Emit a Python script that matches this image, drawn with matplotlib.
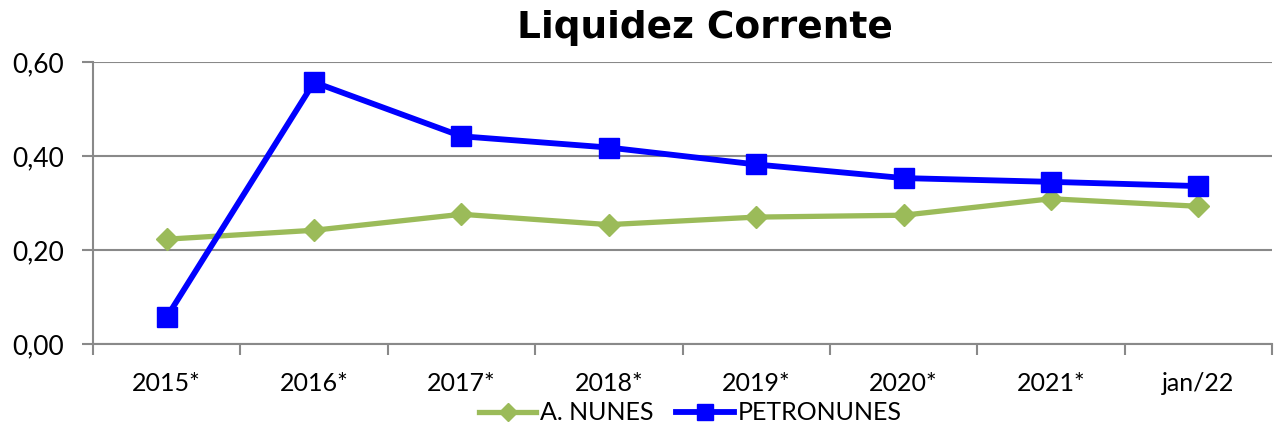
import matplotlib.pyplot as plt

categories = ["2015*", "2016*", "2017*", "2018*", "2019*", "2020*", "2021*", "jan/22"]
a_nunes = [0.223, 0.242, 0.276, 0.254, 0.270, 0.274, 0.309, 0.293]
petronunes = [0.057, 0.557, 0.442, 0.418, 0.382, 0.353, 0.345, 0.336]

GRID = '#898989'
TICK_FONT = ['Lato', 'DejaVu Sans']

fig = plt.figure(figsize=(12.77, 4.30), dpi=100)
ax = fig.add_axes([93 / 1277, 1 - 344 / 430, (1272 - 93) / 1277, (344 - 62) / 430])

x = list(range(len(categories)))
ax.plot(x, a_nunes, color='#9BBB59', linewidth=3.8, marker='D',
        markersize=11, label='A. NUNES')
ax.plot(x, petronunes, color='#0000FF', linewidth=4.2, marker='s',
        markersize=14, label='PETRONUNES')

ax.set_xlim(-0.5, len(categories) - 0.5)
ax.set_ylim(0, 0.6)
ax.set_yticks([0, 0.2, 0.4, 0.6])
ax.set_yticklabels(["0,00", "0,20", "0,40", "0,60"], family=TICK_FONT, fontsize=19)
ax.set_xticks(x)
ax.set_xticklabels(categories, family=TICK_FONT, fontsize=18)
ax.set_xticks([i + 0.5 for i in range(-1, len(categories))], minor=True)
ax.tick_params(axis='x', which='major', length=0, pad=20)
ax.tick_params(axis='x', which='minor', length=8, width=1.5, color=GRID, direction='out')
ax.tick_params(axis='y', length=8, width=1.5, color=GRID, pad=13)

ax.grid(True, axis='y', color=GRID, linewidth=1.5)
ax.set_axisbelow(True)
for side in ['top', 'right']:
    ax.spines[side].set_visible(False)
for side in ['left', 'bottom']:
    ax.spines[side].set_color(GRID)
    ax.spines[side].set_linewidth(1.5)

fig.text(705 / 1277, 1 - 28 / 430, "Liquidez Corrente", ha='center', va='center',
         fontsize=27, fontweight='bold', family='DejaVu Sans')

fig.legend(loc='center', bbox_to_anchor=(690 / 1277, 1 - 413 / 430), ncol=2,
           frameon=False, prop={'family': TICK_FONT, 'size': 18},
           handlelength=2.3, handletextpad=0.15, columnspacing=0.9, markerscale=0.8)

fig.savefig("out.png", dpi=100)
